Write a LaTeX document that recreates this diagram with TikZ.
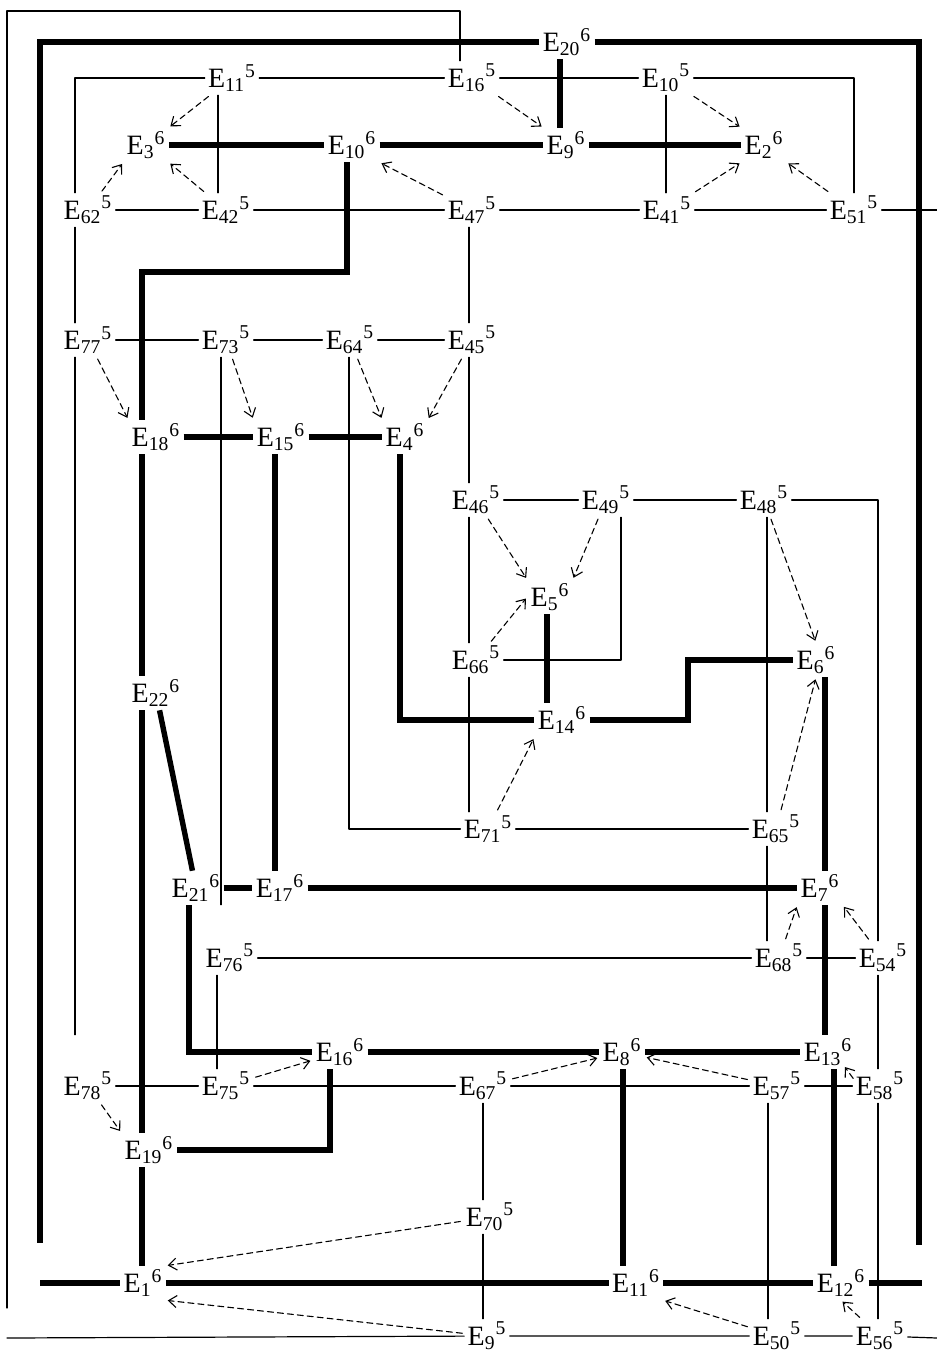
\documentclass[tikz,border=0pt]{standalone}
\usepackage{fontspec}
\setmainfont{Liberation Serif}
\usetikzlibrary{arrows.meta}

\newcommand{\elab}[2]{E\textsubscript{#1}\textsuperscript{#2}}

\begin{document}
\begin{tikzpicture}[x=0.5pt,y=-0.5pt, line cap=round, line join=round,
  lbl/.style={inner sep=1.5pt, font=\fontsize{14}{16}\selectfont},
  link/.style={line width=0.6pt},
  bond/.style={line width=2.7pt, line cap=butt, line join=miter},
  dep/.style={line width=0.55pt, dash pattern=on 3pt off 2pt,
    -{Straight Barb[length=4pt,width=6pt]}, shorten <=1pt, shorten >=1pt}]

\useasboundingbox (0,0) rectangle (937,1356);

% labels
\node[lbl] (E20-6) at (567,  42) {\elab{20}{6}};
\node[lbl] (E11-5) at (232,  78) {\elab{11}{5}};
\node[lbl] (E16-5) at (472,  78) {\elab{16}{5}};
\node[lbl] (E10-5) at (666,  78) {\elab{10}{5}};
\node[lbl] (E3-6)  at (146, 145) {\elab{3}{6}};
\node[lbl] (E10-6) at (352, 145) {\elab{10}{6}};
\node[lbl] (E9-6)  at (566, 145) {\elab{9}{6}};
\node[lbl] (E2-6)  at (764, 145) {\elab{2}{6}};
\node[lbl] (E62-5) at ( 88, 210) {\elab{62}{5}};
\node[lbl] (E42-5) at (226, 210) {\elab{42}{5}};
\node[lbl] (E47-5) at (472, 210) {\elab{47}{5}};
\node[lbl] (E41-5) at (667, 210) {\elab{41}{5}};
\node[lbl] (E51-5) at (854, 210) {\elab{51}{5}};
\node[lbl] (E77-5) at ( 88, 340) {\elab{77}{5}};
\node[lbl] (E73-5) at (226, 340) {\elab{73}{5}};
\node[lbl] (E64-5) at (350, 340) {\elab{64}{5}};
\node[lbl] (E45-5) at (472, 340) {\elab{45}{5}};
\node[lbl] (E18-6) at (156, 437) {\elab{18}{6}};
\node[lbl] (E15-6) at (281, 437) {\elab{15}{6}};
\node[lbl] (E4-6)  at (405, 437) {\elab{4}{6}};
\node[lbl] (E46-5) at (476, 500) {\elab{46}{5}};
\node[lbl] (E49-5) at (606, 500) {\elab{49}{5}};
\node[lbl] (E48-5) at (764, 500) {\elab{48}{5}};
\node[lbl] (E5-6)  at (550, 597) {\elab{5}{6}};
\node[lbl] (E66-5) at (476, 660) {\elab{66}{5}};
\node[lbl] (E6-6)  at (816, 660) {\elab{6}{6}};
\node[lbl] (E22-6) at (156, 693) {\elab{22}{6}};
\node[lbl] (E14-6) at (562, 720) {\elab{14}{6}};
\node[lbl] (E71-5) at (488, 829) {\elab{71}{5}};
\node[lbl] (E65-5) at (776, 829) {\elab{65}{5}};
\node[lbl] (E21-6) at (196, 888) {\elab{21}{6}};
\node[lbl] (E17-6) at (280, 888) {\elab{17}{6}};
\node[lbl] (E7-6)  at (820, 888) {\elab{7}{6}};
\node[lbl] (E76-5) at (230, 958) {\elab{76}{5}};
\node[lbl] (E68-5) at (779, 958) {\elab{68}{5}};
\node[lbl] (E54-5) at (883, 958) {\elab{54}{5}};
\node[lbl] (E16-6) at (340,1052) {\elab{16}{6}};
\node[lbl] (E8-6)  at (622,1052) {\elab{8}{6}};
\node[lbl] (E13-6) at (828,1052) {\elab{13}{6}};
\node[lbl] (E78-5) at ( 88,1086) {\elab{78}{5}};
\node[lbl] (E75-5) at (226,1086) {\elab{75}{5}};
\node[lbl] (E67-5) at (483,1086) {\elab{67}{5}};
\node[lbl] (E57-5) at (777,1086) {\elab{57}{5}};
\node[lbl] (E58-5) at (880,1086) {\elab{58}{5}};
\node[lbl] (E19-6) at (149,1150) {\elab{19}{6}};
\node[lbl] (E70-5) at (490,1217) {\elab{70}{5}};
\node[lbl] (E1-6)  at (143,1283) {\elab{1}{6}};
\node[lbl] (E11-6) at (636,1283) {\elab{11}{6}};
\node[lbl] (E12-6) at (841,1283) {\elab{12}{6}};
\node[lbl] (E9-5)  at (487,1336) {\elab{9}{5}};
\node[lbl] (E50-5) at (777,1336) {\elab{50}{5}};
\node[lbl] (E56-5) at (880,1336) {\elab{56}{5}};

% corners, free ends and columns
\coordinate (tl) at (7,11);
\coordinate (tr) at (460,11);
\coordinate (lend) at (7,1308);
\coordinate (bl) at (7,1338);
\coordinate (br) at (937,1338);
\coordinate (rstub) at (937,210);
\coordinate (ktl) at (40,42);
\coordinate (kbl) at (40,1243);
\coordinate (ktr) at (919,42);
\coordinate (kbr) at (919,1245);
\coordinate (kl1) at (40,1283);
\coordinate (kr1) at (922,1283);
\coordinate (c1) at (347,272);
\coordinate (c2) at (142,272);
\coordinate (c3) at (688,660);

\coordinate (col75) at (75,0);
\coordinate (col189) at (189,0);
\coordinate (col217) at (217,0);
\coordinate (col218) at (218,0);
\coordinate (col221) at (221,0);
\coordinate (col275) at (275,0);
\coordinate (col330) at (330,0);
\coordinate (col349) at (349,0);
\coordinate (col400) at (400,0);
\coordinate (col469) at (469,0);
\coordinate (col483) at (483,0);
\coordinate (col547) at (547,0);
\coordinate (col560) at (560,0);
\coordinate (col621) at (621,0);
\coordinate (col623) at (623,0);
\coordinate (col767) at (767,0);
\coordinate (col768) at (768,0);
\coordinate (col825) at (825,0);
\coordinate (col834) at (834,0);
\coordinate (col878) at (878,0);

% thin links
\draw[link] (tr |- E16-5.north) -- (tr) -- (tl) -- (lend);
\draw[link] (E11-5) -- (E16-5) -- (E10-5);
\draw[link] (E11-5) -| (col75 |- E62-5.north);
\draw[link] (E10-5) -| (E51-5);
\draw[link] (col218 |- E11-5.south) -- (col218 |- E42-5.north);
\draw[link] (E10-5) -- (E10-5 |- E41-5.north);
\draw[link] (E62-5) -- (E42-5) -- (E47-5) -- (E41-5) -- (E51-5) -- (rstub);
\draw[link] (col75 |- E62-5.south) -- (col75 |- E77-5.north);
\draw[link, shorten >=17pt] (col75 |- E77-5.south) -- (col75 |- E78-5.north);
\draw[link] (E77-5) -- (E73-5) -- (E64-5) -- (E45-5);
\draw[link, shorten >=18pt] (col221 |- E73-5.south) -- (col221 |- E76-5.north);
\draw[link] (col349 |- E64-5.south) |- (E71-5);
\draw[link] (col469 |- E47-5.south) -- (col469 |- E45-5.north);
\draw[link] (col469 |- E45-5.south) -- (col469 |- E46-5.north);
\draw[link] (col469 |- E46-5.south) -- (col469 |- E66-5.north);
\draw[link] (col469 |- E66-5.south) -- (col469 |- E71-5.north);
\draw[link] (E46-5) -- (E49-5) -- (E48-5) -| (col878 |- E54-5.north);
\draw[link] (col621 |- E49-5.south) |- (E66-5);
\draw[link] (col767 |- E48-5.south) -- (col767 |- E65-5.north);
\draw[link] (col767 |- E65-5.south) -- (col767 |- E68-5.north);
\draw[link] (E71-5) -- (E65-5);
\draw[link] (E76-5) -- (E68-5) -- (E54-5);
\draw[link] (col217 |- E76-5.south) -- (col217 |- E75-5.north);
\draw[link] (col878 |- E54-5.south) -- (col878 |- E58-5.north);
\draw[link] (col878 |- E58-5.south) -- (col878 |- E56-5.north);
\draw[link] (E78-5) -- (E75-5) -- (E67-5) -- (E57-5) -- (E58-5);
\draw[link] (col483 |- E67-5.south) -- (col483 |- E70-5.north);
\draw[link] (col483 |- E70-5.south) -- (col483 |- E9-5.north);
\draw[link] (col768 |- E57-5.south) -- (col768 |- E50-5.north);
\draw[link] (bl) -- (E9-5) -- (E50-5) -- (E56-5) -- (br);

% thick bonds
\draw[bond] (E20-6) -- (ktl) -- (kbl);
\draw[bond] (E20-6) -- (ktr) -- (kbr);
\draw[bond] (col560 |- E20-6.south) -- (col560 |- E9-6.north);
\draw[bond] (E3-6) -- (E10-6) -- (E9-6) -- (E2-6);
\draw[bond] (c1 |- E10-6.south) -- (c1) -- (c2) -- (c2 |- E18-6.north);
\draw[bond] (E18-6) -- (E15-6) -- (E4-6);
\draw[bond] (c2 |- E18-6.south) -- (c2 |- E22-6.north);
\draw[bond] (c2 |- E22-6.south) -- (c2 |- E19-6.north);
\draw[bond] (c2 |- E19-6.south) -- (c2 |- E1-6.north);
\draw[bond] (E22-6) -- (E21-6);
\draw[bond] (E21-6) -- (E17-6) -- (E7-6);
\draw[bond] (col275 |- E15-6.south) -- (col275 |- E17-6.north);
\draw[bond] (col400 |- E4-6.south) |- (E14-6);
\draw[bond] (col547 |- E5-6.south) -- (col547 |- E14-6.north);
\draw[bond] (E14-6) -| (c3) -- (E6-6);
\draw[bond] (col825 |- E6-6.south) -- (col825 |- E7-6.north);
\draw[bond] (col825 |- E7-6.south) -- (col825 |- E13-6.north);
\draw[bond] (col189 |- E21-6.south) |- (E16-6);
\draw[bond] (E16-6) -- (E8-6) -- (E13-6);
\draw[bond] (col330 |- E16-6.south) |- (E19-6);
\draw[bond] (col623 |- E8-6.south) -- (col623 |- E11-6.north);
\draw[bond] (col834 |- E13-6.south) -- (col834 |- E12-6.north);
\draw[bond] (kl1) -- (E1-6) -- (E11-6) -- (E12-6) -- (kr1);

% dashed arrows
\draw[dep] (E11-5) -- (E3-6.north east);
\draw[dep] (E62-5) -- (E3-6.south west);
\draw[dep] (E42-5) -- (E3-6.south east);
\draw[dep] (E16-5) -- (E9-6.north west);
\draw[dep] (E47-5) -- (E10-6.south east);
\draw[dep] (E10-5) -- (E2-6.north west);
\draw[dep] (E41-5) -- (E2-6.south west);
\draw[dep] (E51-5) -- (E2-6.south east);
\draw[dep] (E77-5) -- (E18-6.north west);
\draw[dep] (E73-5) -- (E15-6.north west);
\draw[dep] (E64-5) -- (E4-6.north west);
\draw[dep] (E45-5) -- (E4-6.north east);
\draw[dep] (E46-5) -- (E5-6.north west);
\draw[dep] (E49-5) -- (E5-6.north east);
\draw[dep] (E66-5) -- (E5-6.west);
\draw[dep] (E48-5) -- (E6-6.north);
\draw[dep] (E71-5) -- (E14-6.south west);
\draw[dep] (E65-5) -- (E6-6.south);
\draw[dep] (E68-5) -- (E7-6.south west);
\draw[dep] (E54-5) -- (E7-6.south east);
\draw[dep] (E75-5) -- (E16-6);
\draw[dep] (E67-5) -- (E8-6);
\draw[dep] (E57-5) -- (E8-6);
\draw[dep] ([shift={(2,-6)}]E58-5.west) -- ([shift={(-12,-4)}]E13-6.south east);
\draw[dep] (E78-5) -- (E19-6.north west);
\draw[dep] (E70-5) -- (E1-6.north east);
\draw[dep] (E9-5) -- (E1-6.south east);
\draw[dep] (E50-5) -- (E11-6.south east);
\draw[dep] (E56-5) -- (E12-6.south);

\end{tikzpicture}
\end{document}
